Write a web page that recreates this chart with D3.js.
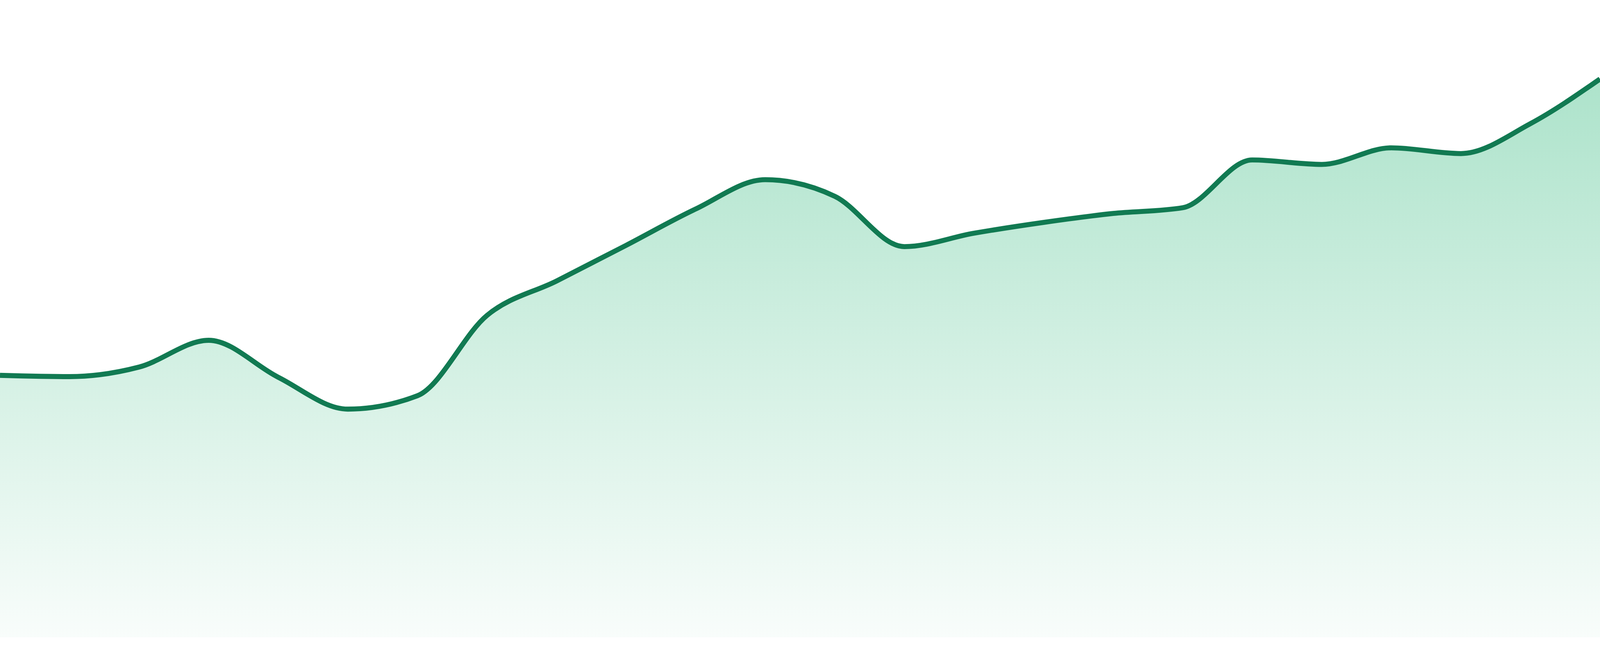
<!DOCTYPE html>
<html>

<head>
    <script src="https://d3js.org/d3.v7.min.js"></script>
    <style>
        html,
        body {
            margin: 0;
            padding: 0;
            background: #fff;
            overflow: hidden;
        }

        svg {
            display: block;
        }
    </style>
</head>

<body>
    <div id="container"></div>

    <script>
        // one value per step
        const steps = d3.range(24);
        const values = [41.1, 40.9, 42.4, 46.6, 40.8, 35.8, 37.9, 50.5, 55.9, 61.5, 67.2, 71.8,
            69.2, 61.3, 63.4, 65.1, 66.5, 67.4, 74.9, 74.2, 76.8, 75.9, 80.6, 87.6];
        const yDomain = [0, 100];

        // fill the window, whatever size it really is
        const width = window.innerWidth || 4800;
        const height = window.innerHeight || 1680;
        const k = width / 4800;
        const plotBottom = height * (1632 / 1680);

        const data = steps.map((s, i) => ({ step: s, value: values[i] }));

        const x = d3.scaleLinear()
            .domain(d3.extent(steps))
            .range([0, width]);

        const y = d3.scaleLinear()
            .domain(yDomain)
            .range([plotBottom, 0]);

        const svg = d3.select("#container")
            .append("svg")
            .attr("width", width)
            .attr("height", height);

        const grad = svg.append("defs")
            .append("linearGradient")
            .attr("id", "fade")
            .attr("gradientUnits", "userSpaceOnUse")
            .attr("x1", 0).attr("x2", 0)
            .attr("y1", y(d3.max(values)))
            .attr("y2", plotBottom);
        grad.append("stop").attr("offset", "0%").attr("stop-color", "#ade3cb").attr("stop-opacity", 1);
        grad.append("stop").attr("offset", "100%").attr("stop-color", "#ade3cb").attr("stop-opacity", 0.08);

        const area = d3.area()
            .x(d => x(d.step))
            .y0(plotBottom)
            .y1(d => y(d.value))
            .curve(d3.curveMonotoneX);

        const line = d3.line()
            .x(d => x(d.step))
            .y(d => y(d.value))
            .curve(d3.curveMonotoneX);

        svg.append("path")
            .datum(data)
            .attr("d", area)
            .attr("fill", "url(#fade)");

        svg.append("path")
            .datum(data)
            .attr("d", line)
            .attr("fill", "none")
            .attr("stroke", "#117a52")
            .attr("stroke-width", 15 * k)
            .attr("stroke-linejoin", "round");
    </script>
</body>

</html>
